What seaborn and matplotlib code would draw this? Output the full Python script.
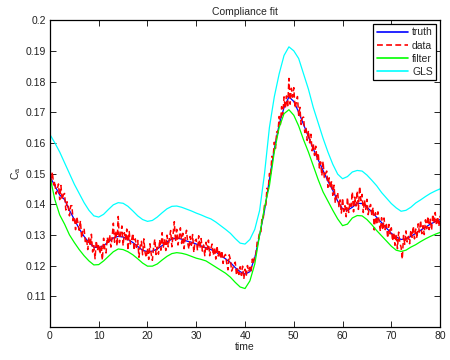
import numpy as np
import pandas as pd
import matplotlib
matplotlib.use("Agg")
import matplotlib.pyplot as plt
import seaborn as sns

# ---- data ----
t_smooth = list(range(0, 81))

truth = [0.149, 0.146, 0.143, 0.1415, 0.138, 0.135, 0.132, 0.1295, 0.1275, 0.126,
         0.1258, 0.1265, 0.1277, 0.129, 0.1295, 0.1293, 0.1285, 0.1275, 0.1262, 0.125,
         0.1245, 0.1247, 0.1254, 0.1265, 0.1277, 0.1286, 0.129, 0.1286, 0.128, 0.1276,
         0.127, 0.1264, 0.1258, 0.1252, 0.1245, 0.1232, 0.1222, 0.121, 0.1193, 0.118,
         0.1172, 0.118, 0.1225, 0.130, 0.138, 0.148, 0.158, 0.166, 0.1715, 0.175,
         0.1735, 0.170, 0.166, 0.162, 0.158, 0.1545, 0.151, 0.1475, 0.1445, 0.141,
         0.1385, 0.138, 0.139, 0.1403, 0.1402, 0.139, 0.1375, 0.1357, 0.134, 0.1322,
         0.1305, 0.1293, 0.1285, 0.1287, 0.1295, 0.1305, 0.1315, 0.1325, 0.1335, 0.1343,
         0.135]

filt = [0.149, 0.1415, 0.1365, 0.1335, 0.130, 0.1275, 0.1252, 0.1232, 0.1215, 0.1202,
        0.1203, 0.1215, 0.123, 0.1245, 0.1254, 0.1252, 0.1245, 0.1235, 0.1222, 0.1208,
        0.1198, 0.1198, 0.1205, 0.1218, 0.123, 0.1239, 0.1242, 0.124, 0.1236, 0.123,
        0.1224, 0.122, 0.1215, 0.1205, 0.1195, 0.1185, 0.1175, 0.1162, 0.1145, 0.113,
        0.1125, 0.115, 0.1205, 0.130, 0.139, 0.146, 0.157, 0.165, 0.1695, 0.1708,
        0.169, 0.1655, 0.161, 0.157, 0.1525, 0.148, 0.144, 0.141, 0.138, 0.1352,
        0.133, 0.1335, 0.1355, 0.1363, 0.1362, 0.135, 0.1333, 0.1314, 0.1297, 0.128,
        0.1263, 0.125, 0.1246, 0.125, 0.126, 0.1268, 0.1278, 0.1287, 0.1295, 0.1302,
        0.1308]

gls = [0.1627, 0.160, 0.157, 0.1535, 0.150, 0.1465, 0.1435, 0.1405, 0.138, 0.1362,
       0.1358, 0.1367, 0.1383, 0.1398, 0.1405, 0.1403, 0.1393, 0.1378, 0.1362, 0.135,
       0.1344, 0.1347, 0.1358, 0.1372, 0.1385, 0.1393, 0.1394, 0.139, 0.1384, 0.1378,
       0.1371, 0.1365, 0.1358, 0.1352, 0.1342, 0.133, 0.1318, 0.1305, 0.1288, 0.1273,
       0.127, 0.1285, 0.1318, 0.138, 0.150, 0.165, 0.175, 0.1825, 0.1885, 0.1913,
       0.190, 0.1875, 0.1825, 0.1775, 0.1715, 0.1665, 0.1615, 0.157, 0.153, 0.1498,
       0.1483, 0.149, 0.1505, 0.151, 0.1508, 0.1495, 0.1478, 0.146, 0.1438, 0.142,
       0.1402, 0.1388, 0.1377, 0.138, 0.139, 0.1404, 0.1414, 0.1425, 0.1435, 0.1443,
       0.145]

t_data = [i * 0.25 for i in range(321)]

data = [
    0.1515, 0.1473, 0.1505, 0.1463, 0.1475, 0.1433, 0.1450, 0.1466,
    0.1415, 0.1461, 0.1415, 0.1431, 0.1435, 0.1381, 0.1408, 0.1392,
    0.1362, 0.1395, 0.1395, 0.1346, 0.1358, 0.1317, 0.1359, 0.1338,
    0.1315, 0.1346, 0.1289, 0.1315, 0.1321, 0.1278, 0.1287, 0.1252,
    0.1293, 0.1264, 0.1302, 0.1244, 0.1265, 0.1222, 0.1281, 0.1249,
    0.1270, 0.1238, 0.1266, 0.1218, 0.1289, 0.1253, 0.1241, 0.1292,
    0.1269, 0.1300, 0.1260, 0.1293, 0.1338, 0.1276, 0.1313, 0.1264,
    0.1360, 0.1275, 0.1304, 0.1329, 0.1265, 0.1307, 0.1285, 0.1319,
    0.1250, 0.1311, 0.1270, 0.1284, 0.1305, 0.1250, 0.1287, 0.1259,
    0.1282, 0.1227, 0.1264, 0.1279, 0.1235, 0.1287, 0.1243, 0.1226,
    0.1257, 0.1220, 0.1271, 0.1239, 0.1217, 0.1259, 0.1286, 0.1236,
    0.1260, 0.1237, 0.1284, 0.1250, 0.1307, 0.1260, 0.1286, 0.1249,
    0.1299, 0.1261, 0.1290, 0.1314, 0.1261, 0.1302, 0.1343, 0.1277,
    0.1318, 0.1267, 0.1292, 0.1323, 0.1272, 0.1305, 0.1255, 0.1294,
    0.1315, 0.1273, 0.1254, 0.1295, 0.1266, 0.1301, 0.1243, 0.1280,
    0.1286, 0.1249, 0.1297, 0.1256, 0.1288, 0.1247, 0.1267, 0.1232,
    0.1276, 0.1252, 0.1283, 0.1232, 0.1256, 0.1270, 0.1233, 0.1259,
    0.1221, 0.1264, 0.1231, 0.1251, 0.1222, 0.1248, 0.1207, 0.1231,
    0.1236, 0.1207, 0.1186, 0.1235, 0.1220, 0.1182, 0.1192, 0.1205,
    0.1211, 0.1168, 0.1191, 0.1171, 0.1196, 0.1168, 0.1198, 0.1156,
    0.1188, 0.1166, 0.1200, 0.1180, 0.1194, 0.1181, 0.1221, 0.1208,
    0.1235, 0.1236, 0.1279, 0.1285, 0.1312, 0.1310, 0.1360, 0.1356,
    0.1398, 0.1393, 0.1452, 0.1445, 0.1500, 0.1491, 0.1556, 0.1549,
    0.1602, 0.1582, 0.1636, 0.1632, 0.1686, 0.1660, 0.1718, 0.1691,
    0.1750, 0.1712, 0.1753, 0.1715, 0.1810, 0.1726, 0.1778, 0.1749,
    0.1780, 0.1713, 0.1730, 0.1751, 0.1690, 0.1716, 0.1660, 0.1682,
    0.1684, 0.1634, 0.1650, 0.1608, 0.1640, 0.1600, 0.1628, 0.1574,
    0.1596, 0.1559, 0.1589, 0.1546, 0.1567, 0.1518, 0.1538, 0.1493,
    0.1540, 0.1487, 0.1499, 0.1508, 0.1455, 0.1486, 0.1452, 0.1475,
    0.1429, 0.1462, 0.1404, 0.1429, 0.1438, 0.1392, 0.1414, 0.1371,
    0.1420, 0.1376, 0.1395, 0.1359, 0.1422, 0.1373, 0.1405, 0.1393,
    0.1440, 0.1375, 0.1423, 0.1394, 0.1443, 0.1383, 0.1458, 0.1412,
    0.1432, 0.1373, 0.1414, 0.1383, 0.1416, 0.1366, 0.1389, 0.1399,
    0.1363, 0.1389, 0.1316, 0.1372, 0.1333, 0.1375, 0.1341, 0.1312,
    0.1356, 0.1316, 0.1355, 0.1317, 0.1334, 0.1290, 0.1334, 0.1303,
    0.1323, 0.1280, 0.1307, 0.1266, 0.1303, 0.1255, 0.1309, 0.1273,
    0.1260, 0.1221, 0.1298, 0.1269, 0.1313, 0.1277, 0.1295, 0.1271,
    0.1315, 0.1292, 0.1328, 0.1287, 0.1319, 0.1288, 0.1336, 0.1309,
    0.1347, 0.1304, 0.1330, 0.1301, 0.1349, 0.1320, 0.1360, 0.1317,
    0.1351, 0.1315, 0.1367, 0.1337, 0.1373, 0.1331, 0.1359, 0.1328,
    0.1362,
]

x_ticks = [0, 10, 20, 30, 40, 50, 60, 70, 80]
y_ticks = [0.11, 0.12, 0.13, 0.14, 0.15, 0.16, 0.17, 0.18, 0.19, 0.2]
y_ticklabels = ["0.11", "0.12", "0.13", "0.14", "0.15", "0.16", "0.17", "0.18", "0.19", "0.2"]

# ---- style ----
sns.set_style("white")
plt.rcParams["font.family"] = ["Liberation Sans", "DejaVu Sans"]
plt.rcParams["mathtext.fontset"] = "custom"
plt.rcParams["mathtext.rm"] = "Liberation Sans"
plt.rcParams["mathtext.it"] = "Liberation Sans"

fig = plt.figure(figsize=(4.5, 3.6), dpi=100)
ax = fig.add_axes([0.111, 0.092, 0.867, 0.852])

sns.lineplot(x=t_smooth, y=truth, ax=ax, color=(0, 0, 1), lw=0.9, label="truth")
sns.lineplot(x=t_data, y=data, ax=ax, color=(1, 0, 0), lw=1.1, label="data",
             linestyle=(0, (3.5, 2.0)))
sns.lineplot(x=t_smooth, y=filt, ax=ax, color=(0, 1, 0), lw=0.9, label="filter")
sns.lineplot(x=t_smooth, y=gls, ax=ax, color=(0, 1, 1), lw=0.9, label="GLS")

ax.set_xlim(0, 80)
ax.set_ylim(0.1, 0.2)
ax.set_xticks(x_ticks)
ax.set_xticklabels([str(v) for v in x_ticks])
ax.set_yticks(y_ticks)
ax.set_yticklabels(y_ticklabels)
ax.tick_params(direction="in", length=4, width=0.6, labelsize=7.5,
               top=True, right=True, bottom=True, left=True, pad=3,
               colors="black", labelcolor="#222222")
for sp in ax.spines.values():
    sp.set_color("black")
    sp.set_linewidth(0.9)

ax.set_title("Compliance fit", fontsize=7.5, pad=4)
ax.set_xlabel("time", fontsize=7.5, labelpad=1)
ax.set_ylabel(r"C$_{\mathrm{a}}$", fontsize=7.5, labelpad=2)

leg = ax.legend(loc="upper right", fontsize=7.5, frameon=True, fancybox=False,
                framealpha=1, edgecolor="black", borderpad=0.35, labelspacing=0.3,
                handlelength=3.0, handletextpad=0.4, borderaxespad=0.35)
leg.get_frame().set_linewidth(0.9)
for line in leg.get_lines():
    line.set_linewidth(1.2)

fig.savefig("out.png", dpi=100)
